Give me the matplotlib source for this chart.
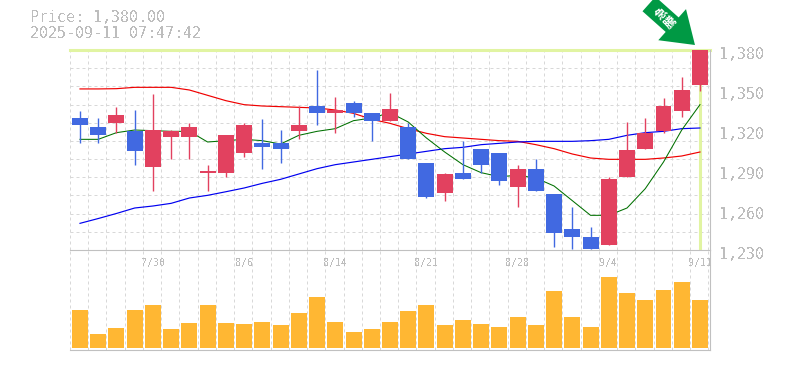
import numpy as np
import matplotlib
matplotlib.use('Agg')
import matplotlib.pyplot as plt
from matplotlib.transforms import ScaledTranslation, offset_copy

plt.rcParams['text.antialiased'] = False

date_labels = ['7/30', '8/6', '8/14', '8/21', '8/28', '9/4', '9/11']
date_idx = [4, 9, 14, 19, 24, 29, 34]
price_ticks = [1230, 1260, 1290, 1320, 1350, 1380]

opens = [1329, 1322, 1325, 1319, 1292, 1315, 1315, 1288, 1288, 1303, 1310, 1310,
         1319, 1338, 1333, 1340, 1333, 1327, 1322, 1295, 1273, 1288, 1306, 1303,
         1277, 1291, 1272, 1246, 1240, 1234, 1285, 1306, 1319, 1334, 1354]
highs = [1334, 1329, 1337, 1335, 1347, 1320, 1325, 1294, 1316, 1325, 1328, 1320,
         1338, 1365, 1345, 1342, 1333, 1348, 1325, 1295, 1288, 1312, 1306, 1303,
         1294, 1298, 1272, 1262, 1247, 1285, 1326, 1329, 1344, 1360, 1380]
lows = [1310, 1310, 1318, 1294, 1274, 1298, 1298, 1274, 1285, 1300, 1291, 1295,
        1313, 1324, 1318, 1330, 1312, 1327, 1298, 1269, 1267, 1283, 1288, 1279,
        1262, 1274, 1232, 1231, 1231, 1234, 1285, 1306, 1318, 1330, 1349]
closes = [1324, 1316, 1331, 1304, 1320, 1319, 1322, 1289, 1316, 1324, 1307, 1306,
          1324, 1333, 1335, 1333, 1327, 1336, 1298, 1270, 1287, 1283, 1294, 1282,
          1291, 1274, 1243, 1240, 1231, 1283, 1305, 1318, 1338, 1350, 1380]

ma_short = [1313, 1313, 1318, 1320, 1319.5, 1319, 1319, 1311, 1312, 1313, 1312, 1309.5,
            1316, 1319, 1321, 1327, 1329, 1333, 1326, 1314, 1303.5, 1294, 1288, 1285,
            1286, 1284, 1278, 1267, 1256, 1256, 1261.5, 1276, 1296, 1320, 1339]
ma_mid = [1350.8, 1350.8, 1351, 1352, 1352, 1352, 1350, 1346, 1342, 1339, 1338, 1337.5,
          1337, 1336.5, 1335, 1332.5, 1328, 1325, 1321, 1317.5, 1315, 1314, 1313, 1312,
          1311.5, 1309, 1306, 1302, 1299, 1298, 1298, 1298, 1299, 1300.5, 1303.5]
ma_long = [1250, 1253.6, 1257.4, 1261.5, 1263, 1265, 1269, 1271, 1273.7, 1276.5, 1280, 1283,
           1287, 1291, 1294, 1296, 1298, 1300, 1302, 1304, 1306, 1307, 1309, 1310,
           1311, 1311.5, 1311.5, 1311.5, 1312, 1313, 1316, 1318, 1319, 1321, 1321.5]

volumes = [38, 14, 20, 38, 43, 19, 25, 43, 25, 24, 26, 23, 35, 51, 26, 16, 19, 26,
           37, 43, 23, 28, 24, 21, 31, 23, 57, 31, 21, 71, 55, 48, 58, 66, 48]

UP = '#e2415f'
DOWN = '#4169e1'
GRID = '#d8d8d8'
FRAME = '#c0c0c0'
LABEL = '#bdbdbd'
HILITE = '#e1f4a2'

W, H = 785, 370
fig = plt.figure(figsize=(W / 100, H / 100), dpi=100)
ax = fig.add_axes([70 / W, 1 - 250 / H, 640 / W, 200 / H])
vax = fig.add_axes([70 / W, 1 - 350 / H, 640 / W, 100 / H])
ax.set_zorder(2)
ax.patch.set_visible(False)

x = np.arange(len(closes))
xlim = (-0.548, 34.55)
grid_x = np.arange(36) - 0.548

for a in (ax, vax):
    a.set_xlim(xlim)
    a.set_xticks(grid_x, minor=True)
    a.grid(which='minor', axis='x', color=GRID, lw=0.72, ls=(0, (3, 3)))
    a.tick_params(which='both', length=0)
    a.set_axisbelow(True)
    for s in ['top', 'left']:
        a.spines[s].set_visible(False)
    for s in ['right', 'bottom']:
        a.spines[s].set_color(FRAME)
        a.spines[s].set_linewidth(0.8)

# price pane
ax.set_ylim(1230, 1380)
ax.set_yticks(np.linspace(1230, 1380, 12), minor=True)
ax.grid(which='minor', axis='y', color=GRID, lw=0.72, ls=(0, (3, 3)))

ax.axhline(1380, color=HILITE, lw=2.2, zorder=1.5, clip_on=False)
ax.axvline(x[-1], color=HILITE, lw=2.2, zorder=1.5)

ax.plot(x, ma_mid, color='#f00000', lw=0.85, zorder=2)
ax.plot(x, ma_long, color='#0000f0', lw=0.85, zorder=2)
ax.plot(x, ma_short, color='#007000', lw=0.75, zorder=2)

colors = [UP if c >= o else DOWN for o, c in zip(opens, closes)]
ax.vlines(x, lows, highs, color=colors, lw=1.0, zorder=3)
ax.bar(x, np.abs(np.array(closes) - np.array(opens)), 0.877,
       bottom=np.minimum(opens, closes), color=colors, zorder=4)

ax.yaxis.tick_right()
ax.set_yticks(price_ticks)
ax.set_yticklabels([f'{p:,}' for p in price_ticks], family='DejaVu Sans Mono',
                   fontsize=10.8, color=LABEL)
ax.tick_params(axis='y', pad=6.5)
shift = ScaledTranslation(0, -3 / 100, fig.dpi_scale_trans)
for lab in ax.get_yticklabels():
    lab.set_transform(lab.get_transform() + shift)

ax.set_xticks(date_idx)
ax.set_xticklabels(date_labels, family='DejaVu Sans Mono', fontsize=7.2, color=LABEL)
ax.tick_params(axis='x', pad=5.5)

# volume pane
vax.set_ylim(-2, 98)
vax.bar(x, volumes, 0.877, color='#ffb733', zorder=3)
vax.set_xticks([])
vax.set_yticks([])

fig.text(30 / W, 1 - 18 / H, 'Price: 1,380.00', family='DejaVu Sans Mono', fontsize=10.8,
         color=LABEL, va='center')
fig.text(30 / W, 1 - 33 / H, '2025-09-11 07:47:42', family='DejaVu Sans Mono', fontsize=10.8,
         color=LABEL, va='center')

# marker arrow pointing at the high
tip = offset_copy(ax.transData, fig, x=-5, y=5, units='dots')
ax.annotate('', xy=(x[-1], highs[-1]), xycoords=tip,
            xytext=(-46, 41), textcoords='offset pixels', annotation_clip=False,
            arrowprops=dict(width=14, headwidth=30, headlength=22, shrink=0,
                            color='#009944', lw=0))
fig.text(666 / W, 1 - 18 / H, '急\n騰', family='Noto Sans CJK JP', fontweight='bold',
         fontsize=8.5, color='white', rotation=45, ha='center', va='center', linespacing=1.0,
         antialiased=True)

fig.savefig('out.png', dpi=100)
